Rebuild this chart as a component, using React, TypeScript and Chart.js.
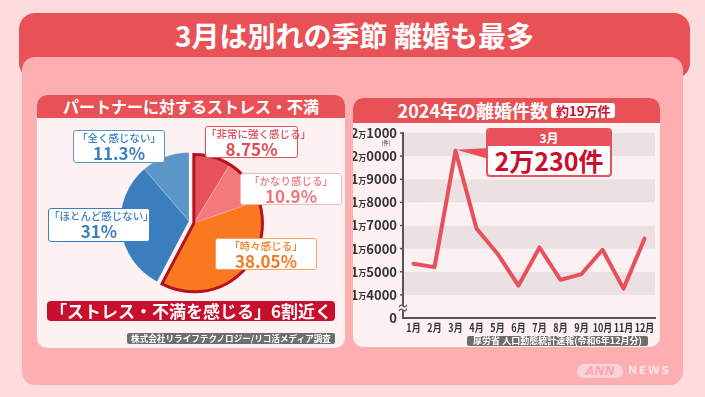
import React, { useEffect, useRef } from 'react';
import { Chart, registerables } from 'chart.js';
Chart.register(...registerables);

const FONT = "'Noto Sans CJK JP', 'Noto Sans', sans-serif";

// ---- Pie data ----
const pieCategories = ['非常に強く感じる', 'かなり感じる', '時々感じる', 'ほとんど感じない', '全く感じない'];
const pieValues = [8.75, 10.9, 38.05, 31, 11.3];
const pieColors = ['#e9515a', '#f4797d', '#f8791f', '#3b7ebe', '#5b96c8'];
const pieTextColors = ['#e24a52', '#f0767b', '#f47a22', '#3a7fbf', '#3a7fbf'];
const pieBorderColors = ['#e9515a', '#f6b9bb', '#f8a060', '#3a7fbf', '#5b96c8'];
const stressGroupCount = 3;

// ---- Line data ----
const months = ['1月', '2月', '3月', '4月', '5月', '6月', '7月', '8月', '9月', '10月', '11月', '12月'];
const divorceCounts = [15350, 15200, 20230, 16870, 15780, 14400, 16050, 14650, 14900, 15950, 14270, 16430];
const yTickValues = [13000, 14000, 15000, 16000, 17000, 18000, 19000, 20000, 21000];
const yTickLabels = ['0', '1万4000', '1万5000', '1万6000', '1万7000', '1万8000', '1万9000', '2万0000', '2万1000'];
const peakIndex = 2;

// label box layout (page coords)
const pieLabelBoxes = [
  { left: 205, top: 126, width: 93, height: 32 },
  { left: 240, top: 173, width: 102, height: 32 },
  { left: 215, top: 238, width: 102, height: 32 },
  { left: 48, top: 208, width: 102, height: 34 },
  { left: 73, top: 130, width: 92, height: 33 },
];

const explodePlugin = {
  id: 'explodeGroup',
  beforeDatasetDraw(chart: any) {
    const meta = chart.getDatasetMeta(0);
    const ctx = chart.ctx;
    const arcs = meta.data;
    const a0 = arcs[0];
    const aN = arcs[stressGroupCount - 1];
    const start = a0.startAngle;
    const end = aN.endAngle;
    const mid = (start + end) / 2;
    const d = 5;
    const dx = Math.cos(mid) * d;
    const dy = Math.sin(mid) * d + 1;
    arcs.forEach((arc: any, i: number) => {
      ctx.save();
      if (i < stressGroupCount) ctx.translate(dx, dy);
      arc.draw(ctx);
      ctx.restore();
    });
    ctx.save();
    ctx.translate(dx, dy);
    ctx.beginPath();
    ctx.moveTo(a0.x, a0.y);
    ctx.arc(a0.x, a0.y, a0.outerRadius, start, end);
    ctx.closePath();
    ctx.strokeStyle = '#b4121d';
    ctx.lineWidth = 3;
    ctx.lineJoin = 'miter';
    ctx.stroke();
    ctx.restore();
    return false;
  },
};

function PieChart() {
  const ref = useRef<HTMLCanvasElement>(null);
  useEffect(() => {
    const chart = new Chart(ref.current!, {
      type: 'pie',
      data: {
        labels: pieCategories,
        datasets: [
          {
            data: pieValues,
            backgroundColor: pieColors,
            borderColor: 'rgba(255,255,255,0.25)',
            borderWidth: 0.8,
          },
        ],
      },
      options: {
        responsive: false,
        animation: false,
        layout: { padding: 11 },
        plugins: { legend: { display: false }, tooltip: { enabled: false } },
      },
      plugins: [explodePlugin],
    });
    return () => chart.destroy();
  }, []);
  return (
    <canvas
      ref={ref}
      width={160}
      height={160}
      style={{ position: 'absolute', left: 109, top: 141, width: 160, height: 160 }}
    />
  );
}

const bandPlugin = {
  id: 'bands',
  beforeDraw(chart: any) {
    const ctx = chart.ctx;
    const y = chart.scales.y;
    const { left, right } = chart.chartArea;
    for (let i = 0; i < yTickValues.length - 1; i++) {
      const v0 = yTickValues[i];
      const v1 = yTickValues[i + 1];
      const y0 = y.getPixelForValue(v0);
      const y1 = y.getPixelForValue(v1);
      ctx.fillStyle = (yTickValues.length - 2 - i) % 2 === 0 ? '#ebe1e2' : '#fcf1f2';
      ctx.fillRect(left, y1, right - left, y0 - y1);
    }
  },
  afterDraw(chart: any) {
    const ctx = chart.ctx;
    const y = chart.scales.y;
    const xs = chart.scales.x;
    const { left, bottom } = chart.chartArea;
    ctx.save();
    ctx.fillStyle = '#333333';
    ctx.textBaseline = 'middle';
    yTickValues.forEach((v, i) => {
      const py = y.getPixelForValue(v);
      const label = yTickLabels[i];
      const rx = left - 6;
      ctx.strokeStyle = '#555';
      ctx.lineWidth = 1.5;
      if (i > 0) {
        ctx.beginPath();
        ctx.moveTo(left - 3, py);
        ctx.lineTo(left, py);
        ctx.stroke();
      }
      if (label.indexOf('万') < 0) {
        ctx.font = `bold 13px ${FONT}`;
        ctx.textAlign = 'right';
        ctx.fillText(label, rx, py);
        return;
      }
      const [a, b] = label.split('万');
      ctx.font = `bold 13px ${FONT}`;
      const wa = ctx.measureText(a).width;
      const wb = ctx.measureText(b).width;
      ctx.font = `bold 8px ${FONT}`;
      const wm = ctx.measureText('万').width;
      let x = rx - wb - wm - wa;
      ctx.textAlign = 'left';
      ctx.font = `bold 13px ${FONT}`;
      ctx.fillText(a, x, py);
      x += wa;
      ctx.font = `bold 8px ${FONT}`;
      ctx.fillText('万', x, py + 1.5);
      x += wm;
      ctx.font = `bold 13px ${FONT}`;
      ctx.fillText(b, x, py);
    });
    // x labels (condensed)
    ctx.font = `bold 11px ${FONT}`;
    ctx.textAlign = 'center';
    months.forEach((m, i) => {
      const px = xs.getPixelForValue(i);
      ctx.save();
      ctx.translate(px, bottom + 10);
      ctx.scale(0.82, 1);
      ctx.fillText(m, 0, 0);
      ctx.restore();
    });
    // unit
    ctx.font = `5.5px ${FONT}`;
    ctx.textAlign = 'center';
    ctx.fillText('(件)', left - 17, y.getPixelForValue(21000) + 10);
    // axis break
    const yb = (y.getPixelForValue(13000) + y.getPixelForValue(14000)) / 2 + 2;
    ctx.fillStyle = '#fdf1f2';
    ctx.fillRect(left - 5, yb - 3, 9, 5);
    ctx.strokeStyle = '#555';
    ctx.lineWidth = 1.3;
    [-2.5, 1.5].forEach((o) => {
      ctx.beginPath();
      ctx.moveTo(left - 4, yb + o + 1);
      ctx.quadraticCurveTo(left - 2, yb + o - 2, left, yb + o);
      ctx.quadraticCurveTo(left + 2, yb + o + 2, left + 4, yb + o - 1);
      ctx.stroke();
    });
    ctx.restore();
  },
  afterDatasetsDraw(chart: any) {
    const ctx = chart.ctx;
    const pt = chart.getDatasetMeta(0).data[peakIndex];
    ctx.save();
    ctx.fillStyle = '#e8505b';
    ctx.beginPath();
    ctx.moveTo(pt.x + 1, pt.y - 1);
    ctx.lineTo(136, 25);
    ctx.lineTo(136, 36);
    ctx.closePath();
    ctx.fill();
    ctx.restore();
  },
};

function LineChart() {
  const ref = useRef<HTMLCanvasElement>(null);
  useEffect(() => {
    const chart = new Chart(ref.current!, {
      type: 'line',
      data: {
        labels: months,
        datasets: [
          {
            data: divorceCounts,
            borderColor: '#e8505b',
            borderWidth: 4,
            pointRadius: 0,
            tension: 0,
            fill: false,
            borderJoinStyle: 'round',
            borderCapStyle: 'round',
          },
        ],
      },
      options: {
        responsive: false,
        animation: false,
        layout: { padding: { top: 10, right: 5, left: 0, bottom: 0 } },
        plugins: { legend: { display: false }, tooltip: { enabled: false } },
        scales: {
          x: {
            type: 'category',
            offset: true,
            grid: { display: false },
            border: { color: '#555', width: 2 },
            ticks: { display: false },
            afterFit: (s: any) => {
              s.height = 27;
            },
          },
          y: {
            min: 13000,
            max: 21000,
            ticks: { display: false, stepSize: 1000 },
            grid: { display: false },
            border: { color: '#555', width: 2 },
            afterFit: (s: any) => {
              s.width = 50;
            },
          },
        },
      },
      plugins: [bandPlugin],
    });
    return () => chart.destroy();
  }, []);
  return (
    <canvas
      ref={ref}
      width={307}
      height={222}
      style={{ position: 'absolute', left: 353, top: 123, width: 307, height: 222 }}
    />
  );
}

const abs = (s: React.CSSProperties): React.CSSProperties => ({ position: 'absolute', boxSizing: 'border-box', ...s });

export default function App() {
  return (
    <div
      style={{
        position: 'absolute',
        left: 0,
        top: 0,
        width: 705,
        height: 397,
        overflow: 'hidden',
        background: '#fcdcdd',
        fontFamily: FONT,
      }}
    >
      {/* red header panel */}
      <div style={abs({ left: 19, top: 13, width: 671, height: 66, background: '#e85257', borderRadius: 16 })} />
      <div
        style={abs({
          left: 19,
          top: 13,
          width: 671,
          height: 44,
          color: '#fff',
          fontWeight: 700,
          fontSize: 28,
          lineHeight: '44px',
          textAlign: 'center',
          whiteSpace: 'nowrap',
        })}
      >
        3月は別れの季節 離婚も最多
      </div>
      {/* pink inner panel */}
      <div style={abs({ left: 22, top: 57, width: 661, height: 328, background: '#fdaeb1', borderRadius: 13 })} />

      {/* left card */}
      <div style={abs({ left: 37, top: 95, width: 308, height: 253, background: '#fdf1f2', borderRadius: 10, overflow: 'hidden' })}>
        <div
          style={abs({
            left: 0,
            top: 0,
            width: 308,
            height: 23,
            background: '#e85257',
            color: '#fff',
            fontWeight: 700,
            fontSize: 16,
            lineHeight: '23px',
            textAlign: 'center',
          })}
        >
          パートナーに対するストレス・不満
        </div>
      </div>

      {/* right card */}
      <div style={abs({ left: 353, top: 98, width: 307, height: 249, background: '#fdf1f2', borderRadius: 10, overflow: 'hidden' })}>
        <div
          style={abs({
            left: 0,
            top: 0,
            width: 307,
            height: 25,
            background: '#e85257',
            color: '#fff',
            fontWeight: 700,
            fontSize: 18,
            lineHeight: '25px',
            textAlign: 'center',
            whiteSpace: 'nowrap',
          })}
        >
          2024年の離婚件数
          <span
            style={{
              display: 'inline-block',
              marginLeft: 3,
              background: '#fff',
              color: '#c8102e',
              fontSize: 13,
              lineHeight: '15px',
              padding: '0 5px',
              borderRadius: 3,
              verticalAlign: 2,
            }}
          >
            約19万件
          </span>
        </div>
      </div>

      <PieChart />
      {pieLabelBoxes.map((b, i) => (
        <div
          key={i}
          style={abs({
            left: b.left,
            top: b.top,
            width: b.width,
            height: b.height,
            background: '#fff',
            border: `1.5px solid ${pieBorderColors[i]}`,
            borderRadius: 3,
            color: pieTextColors[i],
            textAlign: 'center',
            whiteSpace: 'nowrap',
          })}
        >
          <div style={{ fontSize: 10.5, lineHeight: '12px', marginTop: 1, fontWeight: 500 }}>「{pieCategories[i]}」</div>
          <div style={{ fontSize: 17, lineHeight: '18px', fontWeight: 700 }}>{pieValues[i]}%</div>
        </div>
      ))}

      {/* banner */}
      <div
        style={abs({
          left: 47,
          top: 301,
          width: 288,
          height: 20,
          background: '#c8102e',
          borderRadius: 4,
          color: '#fff',
          fontWeight: 700,
          fontSize: 17,
          lineHeight: '20px',
          textAlign: 'center',
          whiteSpace: 'nowrap',
        })}
      >
        「ストレス・不満を感じる」6割近く
      </div>
      <div
        style={abs({
          left: 127,
          top: 333,
          width: 208,
          height: 11,
          background: '#6e6e6e',
          borderRadius: 2,
          color: '#fff',
          fontWeight: 700,
          fontSize: 8.6,
          lineHeight: '11px',
          textAlign: 'center',
          whiteSpace: 'nowrap',
        })}
      >
        株式会社リライフテクノロジー/リコ活メディア調査
      </div>

      <LineChart />
      {/* callout */}
      <div
        style={abs({
          left: 486,
          top: 128,
          width: 126,
          height: 49,
          background: '#fff',
          border: '2px solid #e8505b',
          borderRadius: 4,
          overflow: 'hidden',
        })}
      >
        <div
          style={{
            background: '#e8505b',
            color: '#fff',
            fontSize: 12,
            fontWeight: 700,
            lineHeight: '16px',
            height: 16,
            textAlign: 'center',
          }}
        >
          {months[peakIndex]}
        </div>
        <div
          style={{
            color: '#c8102e',
            fontSize: 25,
            fontWeight: 700,
            lineHeight: '29px',
            textAlign: 'center',
            whiteSpace: 'nowrap',
          }}
        >
          2万230件
        </div>
      </div>
      <div
        style={abs({
          left: 467,
          top: 336,
          width: 181,
          height: 10,
          background: '#6e6e6e',
          borderRadius: 2,
          color: '#fff',
          fontWeight: 700,
          fontSize: 9,
          lineHeight: '10px',
          textAlign: 'center',
          whiteSpace: 'nowrap',
        })}
      >
        厚労省 人口動態統計速報(令和6年12月分)
      </div>

      {/* logo */}
      <div
        style={abs({
          left: 577,
          top: 364,
          width: 46,
          height: 14,
          background: '#fcd3d6',
          borderRadius: 7,
          color: '#f9a8ad',
          fontFamily: "'DejaVu Sans', sans-serif",
          fontWeight: 700,
          fontStyle: 'italic',
          fontSize: 12,
          lineHeight: '14px',
          textAlign: 'center',
        })}
      >
        ANN
      </div>
      <div
        style={abs({
          left: 628,
          top: 364,
          height: 14,
          color: '#fde3e5',
          fontFamily: "'DejaVu Sans', sans-serif",
          fontWeight: 700,
          fontSize: 11,
          lineHeight: '14px',
          letterSpacing: 1.5,
        })}
      >
        NEWS
      </div>
    </div>
  );
}
